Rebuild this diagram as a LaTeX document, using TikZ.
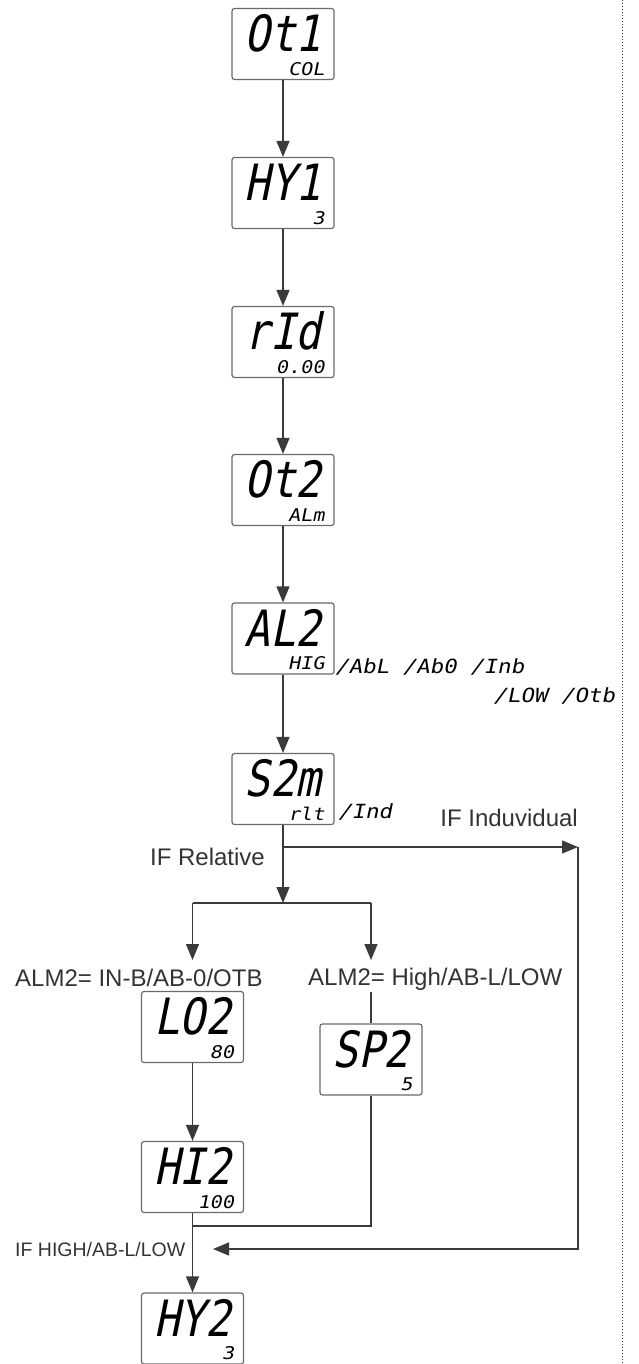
\documentclass[tikz,border=0pt]{standalone}
\usepackage{fontspec}
\setmainfont{Liberation Sans}
\newfontfamily\lcdbig[FakeSlant=0.2,FakeStretch=0.85]{DejaVu Sans Mono}
\newfontfamily\lcdsmall[FakeSlant=0.2,FakeStretch=1.15]{DejaVu Sans Mono}
\usetikzlibrary{arrows.meta,calc}
\definecolor{linec}{HTML}{3A3A3A}
\definecolor{boxc}{HTML}{6A6A6A}
\definecolor{txtc}{HTML}{333333}
\tikzset{
  lcdbox/.style={draw=boxc, line width=1.2pt, rounded corners=2.5pt, minimum width=102pt, minimum height=71pt, inner sep=0pt, fill=white},
  bigtxt/.style={inner sep=0pt, font=\lcdbig\fontsize{50}{50}\selectfont},
  smalltxt/.style={inner sep=0pt, anchor=base east, font=\lcdsmall\fontsize{17.5}{17.5}\selectfont},
  lcdlabel/.style={inner sep=0pt, font=\lcdsmall\fontsize{19.5}{19.5}\selectfont},
  lbl/.style={inner sep=0pt, text=txtc, font=\fontsize{24}{24}\selectfont},
  lblsmall/.style={inner sep=0pt, text=txtc, font=\fontsize{19.5}{19.5}\selectfont},
  conn/.style={draw=linec, line width=1.3pt},
  arr/.style={conn, -{Triangle[length=16pt,width=13pt]}}
}
\begin{document}
\begin{tikzpicture}[x=1pt,y=-1pt]
\useasboundingbox (0,0) rectangle (638,1364);
% dotted separator
\coordinate (dtop) at (622,0);
\coordinate (dbot) at (622,1364);
\draw[linec, line width=1pt, dotted] (dtop) -- (dbot);

% main column boxes
\node[lcdbox] (b1) at (283,44) {};
\node[lcdbox] (b2) at (283,193) {};
\node[lcdbox] (b3) at (283,342) {};
\node[lcdbox] (b4) at (283,490) {};
\node[lcdbox] (b5) at (283,638.5) {};
\node[lcdbox] (b6) at (283,789) {};
% lower boxes
\node[lcdbox] (lo2) at (192.5,1027) {};
\node[lcdbox] (sp2) at (371,1059.5) {};
\node[lcdbox] (hi2) at (192.5,1177) {};
\node[lcdbox] (hy2) at (192.5,1328.5) {};

% big display texts
\foreach \b/\t in {b1/Ot1, b2/HY1, b3/rId, b4/Ot2, b5/AL2, b6/S2m, lo2/LO2, sp2/SP2, hi2/HI2, hy2/HY2}{
  \node[bigtxt, anchor=base] (\b big) at ($(\b.north)+(0,44)$) {\t};
}
% small display texts
\foreach \b/\t in {b1/COL, b2/3, b3/0.00, b4/ALm, b5/HIG, b6/rlt, lo2/80, sp2/5, hi2/100, hy2/3}{
  \node[smalltxt] (\b small) at ($(\b.south east)+(-10,-5)$) {\t};
}

% option lists
\node[lcdlabel, anchor=base west] (al2opt1) at (335,673) {/AbL /Ab0 /Inb};
\node[lcdlabel, anchor=base east] (al2opt2) at (615,702) {/LOW /Otb};
\node[lcdlabel, anchor=base west] (s2mopt) at (338,818) {/Ind};

% main chain
\draw[arr] (b1.south) -- (b2.north);
\draw[arr] (b2.south) -- (b3.north);
\draw[arr] (b3.south) -- (b4.north);
\draw[arr] (b4.south) -- (b5.north);
\draw[arr] (b5.south) -- (b6.north);

% branching
\coordinate (jind) at (283,847);
\coordinate (indr) at (578,847);
\coordinate (indb) at (578,1249);
\coordinate (indend) at (213,1249);
\coordinate (jrel) at (283,903);
\coordinate (jl) at (192.5,903);
\coordinate (jr) at (371,903);
\coordinate (al) at (192.5,960);
\coordinate (ar) at (371,960);
\coordinate (sptop) at (371,992);
\coordinate (spturn) at (371,1226);
\coordinate (spjoin) at (192.5,1226);

\draw[arr] (b6.south) -- (jrel);
\draw[arr] (jind) -- (indr);
\draw[arr] (indr) -- (indb) -- (indend);
\draw[conn] (jl) -- (jr);
\draw[arr] (jl) -- (al);
\draw[arr] (jr) -- (ar);
\draw[conn] (sptop) -- (sp2.north);
\draw[arr] (lo2.south) -- (hi2.north);
\draw[conn] (sp2.south) -- (spturn) -- (spjoin);
\draw[arr] (hi2.south) -- (hy2.north);

% labels
\node[lbl, anchor=base east] (lind) at (578,826) {IF Induvidual};
\node[lbl, anchor=base east] (lrel) at (265,865) {IF Relative};
\node[lbl, anchor=base west] (lalm1) at (15,986) {ALM2= IN-B/AB-0/OTB};
\node[lbl, anchor=base west] (lalm2) at (308,985) {ALM2= High/AB-L/LOW};
\node[lblsmall, anchor=base west] (lhigh) at (15,1256) {IF HIGH/AB-L/LOW};
\end{tikzpicture}
\end{document}
